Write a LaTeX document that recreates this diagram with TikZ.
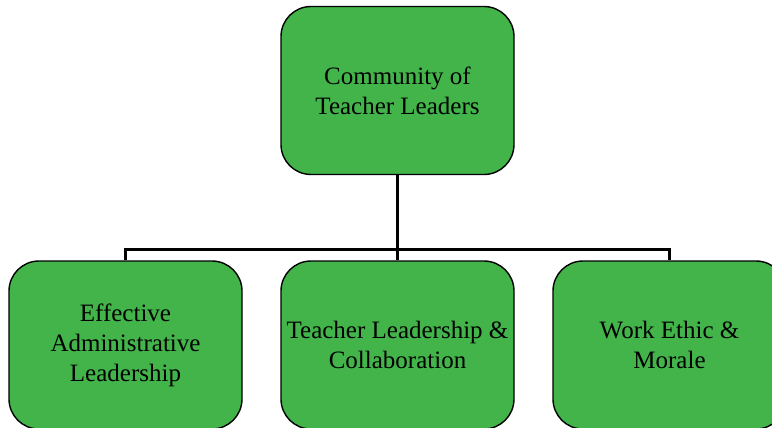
\documentclass[tikz,border=0pt]{standalone}
\usepackage{fontspec}
\setmainfont{Liberation Serif}
\usetikzlibrary{positioning}

\definecolor{boxgreen}{RGB}{66,180,74}

\begin{document}
\begin{tikzpicture}[node distance=136pt,on grid,
    topic/.style={draw=black,line width=0.7pt,fill=boxgreen,rounded corners=15pt,
      minimum width=116.5pt,minimum height=84pt,inner sep=0pt,align=center,
      font=\fontsize{12.5}{15}\selectfont},
    link/.style={draw=black,line width=1.5pt}]
    \useasboundingbox (0,0) rectangle (386pt,-214pt);
    \node[topic]   (top)   at (198.75pt,-45.25pt)   {Community of\\Teacher Leaders};
    \node[topic]   (mid)   [below=127.25pt of top]  {Teacher Leadership \&\\Collaboration};
    \node[topic]   (left)  [left=of mid]            {Effective\\Administrative\\Leadership};
    \node[topic]   (right) [right=of mid]           {Work Ethic \&\\Morale};

    \coordinate (fork) at ([yshift=5.5pt]mid.north);
    \path[link] (top.south) -- (fork) -- (mid.north)
        (left.north) |- (fork) -| (right.north);
\end{tikzpicture}
\end{document}
